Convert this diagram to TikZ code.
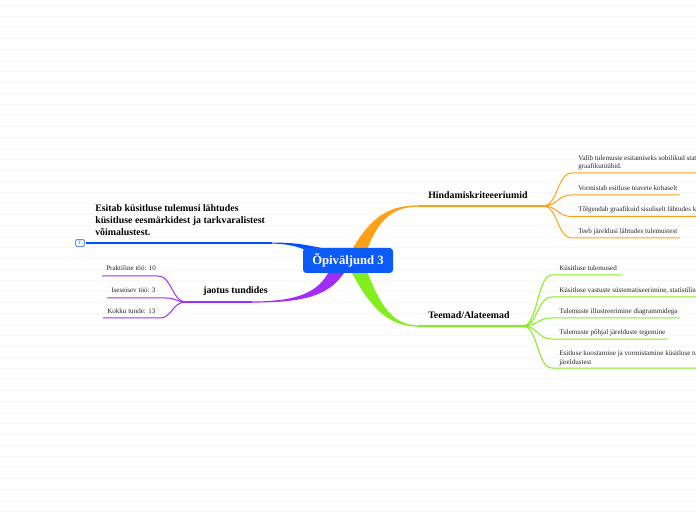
\documentclass[tikz,border=0pt]{standalone}
\usepackage{fontspec}
\setmainfont{Liberation Serif}
\definecolor{cblue}{RGB}{0,82,255}
\definecolor{corange}{RGB}{255,160,25}
\definecolor{cgreen}{RGB}{130,238,30}
\definecolor{cpurple}{RGB}{162,45,250}
\definecolor{cnode}{RGB}{12,90,248}
\definecolor{ctext}{RGB}{40,40,40}
\begin{document}
\begin{tikzpicture}[x=0.75pt,y=-0.75pt,
  small/.style={font=\fontsize{5.3}{6.2}\selectfont, text=ctext, inner sep=0, anchor=base west, align=left},
  topic/.style={font=\fontsize{7.4}{9}\selectfont\bfseries, inner sep=0, anchor=base west, align=left},
  twig/.style={line width=0.75pt},
  uline/.style={line width=0.9pt},
]
\useasboundingbox (0,0) rectangle (696,520);
\fill[white] (0,0) rectangle (696,520);
\foreach \k in {0,...,47} \draw[black!3, line width=0.5pt] (0,{5+\k*11}) -- (696,{5+\k*11});

% ---- coordinates
\coordinate (f1) at (543,206);
\coordinate (f2) at (523,326);
\coordinate (f3) at (186,302);
\coordinate (oEnd) at (418,206);
\coordinate (gEnd) at (418,326);
\coordinate (bEnd) at (272,243);
\coordinate (pEnd) at (252,302);

% ---- thick branches
\fill[corange] (352,250) .. controls (372,214) and (392,205.4) .. (418,205.4) -- (418,206.6) .. controls (394,207) and (379,218) .. (367,250) -- cycle;
\fill[cgreen] (351,271) .. controls (372,312) and (392,326.6) .. (418,326.6) -- (418,325.4) .. controls (394,325) and (381,308) .. (367,271) -- cycle;
\fill[cblue] (270,242.5) .. controls (298,242.5) and (305,245) .. (322,248) -- (322,256) .. controls (305,251) and (298,243.6) .. (270,243.6) -- cycle;
\fill[cpurple] (250,301.5) .. controls (300,301.5) and (318,292) .. (330,270) -- (346,270) .. controls (330,296) and (305,302.6) .. (250,302.6) -- cycle;

% ---- topic underlines
\draw[corange, uline] (oEnd) -- (f1);
\draw[cgreen, uline] (gEnd) -- (f2);
\draw[cblue, uline] (86,243) -- (bEnd);
\draw[cpurple, uline] (f3) -- (pEnd);

% ---- root
\node[fill=cnode, rounded corners=2.5pt, minimum width=67.5pt, minimum height=18.75pt, inner sep=0, text=white, font=\fontsize{9.5}{11}\selectfont\bfseries] (root) at (348,260.5) {Õpiväljund 3};

% ---- topic labels
\node[topic] (hk) at (428,198.5) {Hindamiskriteeeriumid};
\node[topic] (ta) at (428,318.5) {Teemad/Alateemad};
\node[topic] (jt) at (203,293.5) {jaotus tundides};
\node[topic] (es) at (95,235.5) {Esitab küsitluse tulemusi lähtudes\\küsitluse eesmärkidest ja tarkvaralistest\\võimalustest.};
\node[draw=cblue, rounded corners=1.2pt, line width=0.4pt, minimum width=6.5pt, minimum height=5.5pt, inner sep=0, font=\fontsize{3.8}{4}\selectfont, text=cblue] (icon) at (80,243) {T};

% ---- orange children
\draw[corange, twig] (f1) .. controls (558,206) and (557,173) .. (572,173) -- (700,173);
\draw[corange, twig] (f1) .. controls (558,206) and (557,195) .. (572,195) -- (680,195);
\draw[corange, twig] (f1) .. controls (558,206) and (557,216.5) .. (572,216.5) -- (700,216.5);
\draw[corange, twig] (f1) .. controls (558,206) and (557,238) .. (572,238) -- (680,238);
\node[small] (o1) at (578,168.5) {Valib tulemuste esitamiseks sobilikud statistilised näitajad ja\\graafikutüübid.};
\node[small] (o2) at (578,190.5) {Vormistab esitluse teavete kohaselt};
\node[small] (o3) at (578,212) {Tõlgendab graafikuid sisuliselt lähtudes küsitluse eesmärkidest};
\node[small] (o4) at (578,233.5) {Teeb järeldusi lähtudes tulemustest};

% ---- green children
\draw[cgreen, twig] (f2) .. controls (538,326) and (537,275) .. (552,275) -- (622,275);
\draw[cgreen, twig] (f2) .. controls (538,326) and (537,297) .. (552,297) -- (700,297);
\draw[cgreen, twig] (f2) .. controls (538,326) and (537,318) .. (552,318) -- (680,318);
\draw[cgreen, twig] (f2) .. controls (538,326) and (537,339) .. (552,339) -- (668,339);
\draw[cgreen, twig] (f2) .. controls (538,326) and (537,368) .. (552,368) -- (700,368);
\node[small] (g1) at (559,270.5) {Küsitluse tulemused};
\node[small] (g2) at (559,292) {Küsitluse vastuste süstematiseerimine, statistiline analüüs};
\node[small] (g3) at (559,313.5) {Tulemuste illustreerimine diagrammidega};
\node[small] (g4) at (559,334.5) {Tulemuste põhjal järelduste tegemine};
\node[small] (g5) at (559,364) {Esitluse koostamine ja vormistamine küsitluse tulemustest ja\\järeldustest};

% ---- purple children
\draw[cpurple, twig] (f3) .. controls (172,302) and (172,276) .. (158,276) -- (102,276);
\draw[cpurple, twig] (f3) .. controls (176,302) and (176,298) .. (166,298) -- (107,298);
\draw[cpurple, twig] (f3) .. controls (172,302) and (172,318) .. (160,318) -- (103,318);
\node[small] (p1) at (106,271) {Praktiline töö: 10};
\node[small] (p2) at (111,292.5) {Iseseisev töö: 3};
\node[small] (p3) at (107,314) {Kokku tunde: 13};
\end{tikzpicture}
\end{document}
